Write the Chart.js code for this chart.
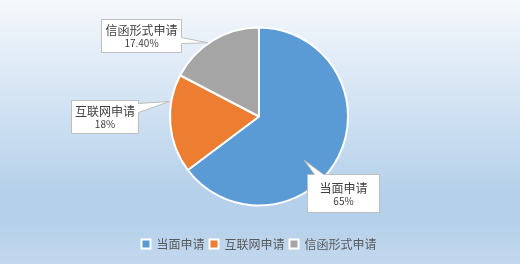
<!DOCTYPE html>
<html>
<head>
<meta charset="utf-8">
<script src="https://cdn.jsdelivr.net/npm/chart.js@4"></script>
<style>
  html, body { margin: 0; padding: 0; }
  #wrap { width: 520px; height: 264px; }
</style>
</head>
<body>
<div id="wrap"><canvas id="pie" width="520" height="264"></canvas></div>
<script>
// DATA
const categories = ["当面申请", "互联网申请", "信函形式申请"];
const values = [65, 18, 17.4];
const pctLabels = ["65%", "18%", "17.40%"];
const colors = ["#5B9BD5", "#ED7D31", "#A5A5A5"];

// callout layout: box offset from pie centre, size, pointer tip (fraction of slice angle, fraction of radius), pointer base
const callouts = [
  { dx: 48, dy: 57, w: 72, h: 38, tipA: 0.575, tipR: 0.71, side: "top", b1: 7, b2: 16 },
  { dx: -188, dy: -17, w: 67, h: 33, tipA: 0.72, tipR: 1.02, side: "right", b1: 3, b2: 12 },
  { dx: -158, dy: -98, w: 80, h: 33, tipA: 0.44, tipR: 1.01, side: "right", b1: 18, b2: 24 },
];

const FONT = "'Noto Sans CJK SC', 'Microsoft YaHei', sans-serif";

// BACKGROUND
const bgPlugin = {
  id: "bg",
  beforeDraw(chart) {
    const c = chart.ctx;
    const g = c.createLinearGradient(0, 0, 0, chart.height);
    g.addColorStop(0, "#F5F8FC");
    g.addColorStop(0.74, "#B4D0EA");
    g.addColorStop(0.83, "#B4D0EA");
    g.addColorStop(1, "#C3D8EE");
    c.save();
    c.fillStyle = g;
    c.fillRect(0, 0, chart.width, chart.height);
    c.restore();
  },
};

// CALLOUTS
const calloutPlugin = {
  id: "callouts",
  afterDatasetsDraw(chart) {
    const c = chart.ctx;
    const arcs = chart.getDatasetMeta(0).data;
    arcs.forEach((arc, i) => {
      const co = callouts[i];
      const { x, y, startAngle, endAngle, outerRadius } = arc.getProps(
        ["x", "y", "startAngle", "endAngle", "outerRadius"], true
      );
      const a = startAngle + (endAngle - startAngle) * co.tipA;
      const tx = x + Math.cos(a) * outerRadius * co.tipR;
      const ty = y + Math.sin(a) * outerRadius * co.tipR;
      const bx = Math.round(x + co.dx) + 0.5;
      const by = Math.round(y + co.dy) + 0.5;
      const bw = co.w, bh = co.h;

      c.save();
      c.beginPath();
      if (co.side === "top") {
        c.moveTo(bx, by);
        c.lineTo(bx + co.b1, by);
        c.lineTo(tx, ty);
        c.lineTo(bx + co.b2, by);
        c.lineTo(bx + bw, by);
        c.lineTo(bx + bw, by + bh);
        c.lineTo(bx, by + bh);
        c.closePath();
      } else {
        c.moveTo(bx, by);
        c.lineTo(bx + bw, by);
        c.lineTo(bx + bw, by + co.b1);
        c.lineTo(tx, ty);
        c.lineTo(bx + bw, by + co.b2);
        c.lineTo(bx + bw, by + bh);
        c.lineTo(bx, by + bh);
        c.closePath();
      }
      c.fillStyle = "#FFFFFF";
      c.fill();
      c.strokeStyle = "#BFBFBF";
      c.lineWidth = 1;
      c.stroke();

      const cx = bx + bw / 2;
      const cy = by + bh / 2;
      c.fillStyle = "#404040";
      c.textAlign = "center";
      c.textBaseline = "middle";
      c.font = "12px " + FONT;
      c.fillText(categories[i], cx, cy - 5.5);
      c.font = "10px " + FONT;
      c.fillText(pctLabels[i], cx, cy + 7.5);
      c.restore();
    });
  },
};

// GRÁFICO
const ctx = document.getElementById("pie");

const chart = new Chart(ctx, {
  type: "pie",
  data: {
    labels: categories,
    datasets: [
      {
        data: values,
        backgroundColor: colors,
        borderColor: "#FFFFFF",
        borderWidth: 2,
      },
    ],
  },
  options: {
    responsive: false,
    animation: false,
    radius: 89,
    layout: { padding: { top: 0, bottom: 4, left: 0, right: 2 } },
    plugins: {
      tooltip: { enabled: false },
      legend: {
        position: "bottom",
        labels: {
          boxWidth: 9,
          boxHeight: 9,
          padding: 5,
          color: "#595959",
          font: { family: FONT, size: 12 },
        },
      },
    },
  },
  plugins: [bgPlugin, calloutPlugin],
});
</script>
</body>
</html>
